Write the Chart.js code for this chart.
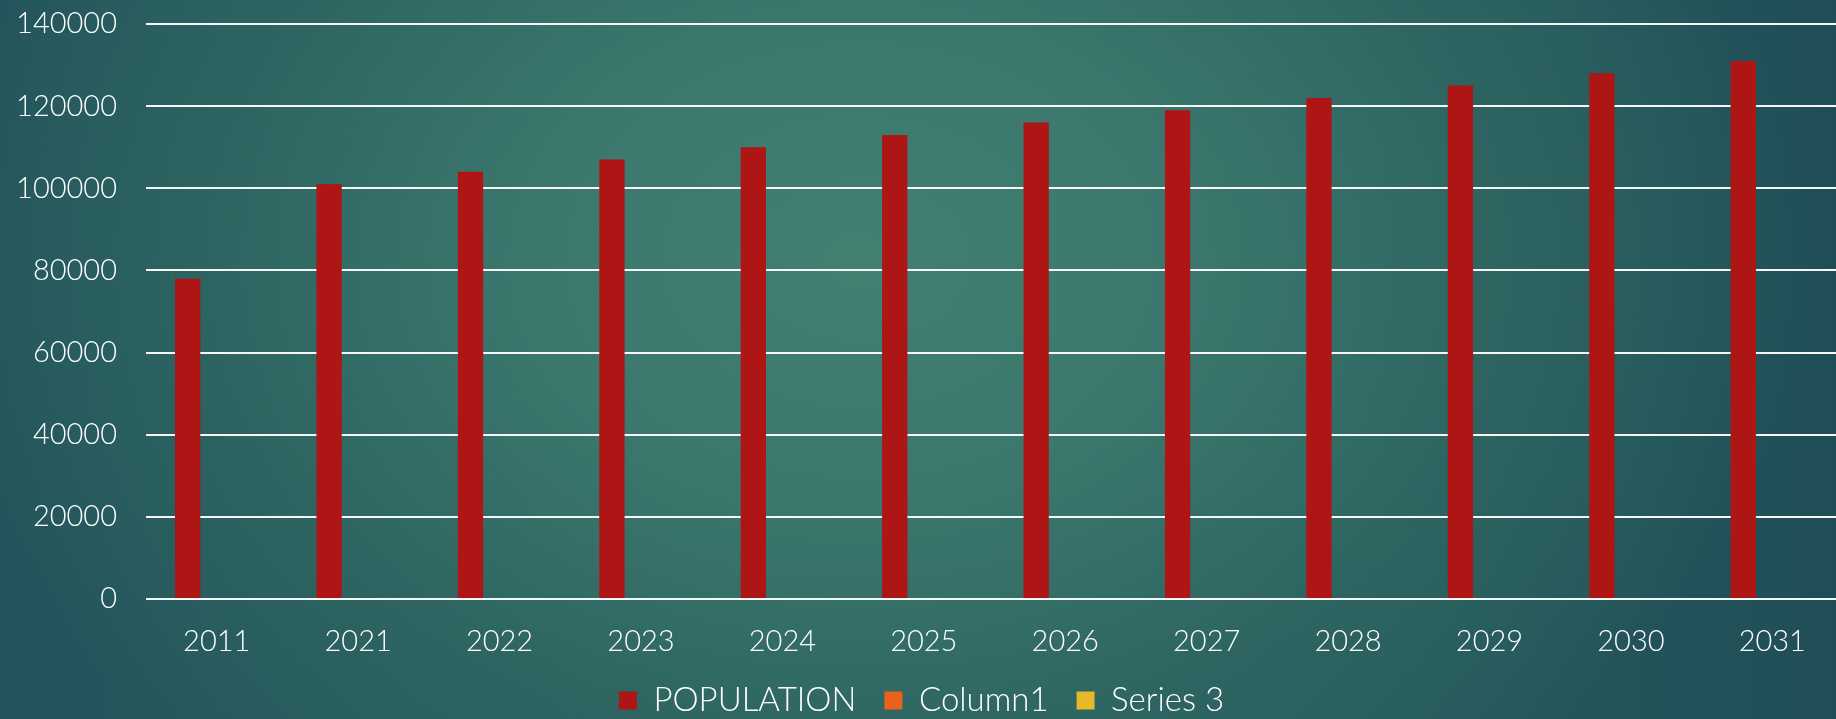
<!DOCTYPE html>
<html>
<head>
<meta charset="utf-8">
<script src="https://cdn.jsdelivr.net/npm/chart.js@4"></script>
<style>
  html, body { margin: 0; padding: 0; width: 1836px; height: 719px; overflow: hidden; }
  body {
    background:
      radial-gradient(ellipse 950px 700px at 860px 260px, rgba(66,128,114,1) 0%, rgba(59,119,109,1) 35%, rgba(46,101,97,0.85) 70%, rgba(33,80,88,0) 100%),
      linear-gradient(90deg, #22535b 0%, #2a6160 40%, #2a6160 60%, #1f4e57 100%);
  }
  #wrap { position: absolute; left: 0; top: 0; width: 1843px; height: 727px; }
</style>
</head>
<body>
<div id="wrap"><canvas id="c" width="1843" height="727"></canvas></div>
<script>
const categories = ['2011','2021','2022','2023','2024','2025','2026','2027','2028','2029','2030','2031'];
const population = [78000, 101000, 104000, 107000, 110000, 113000, 116000, 119000, 122000, 125000, 128000, 131000];
const column1 = [null, null, null, null, null, null, null, null, null, null, null, null];
const series3 = [null, null, null, null, null, null, null, null, null, null, null, null];
const seriesNames = ['POPULATION', 'Column1', 'Series 3'];
const yTicks = [0, 20000, 40000, 60000, 80000, 100000, 120000, 140000];

const FONT = 'Lato, "Open Sans", "DejaVu Sans", sans-serif';

new Chart(document.getElementById('c'), {
  type: 'bar',
  data: {
    labels: categories,
    datasets: [
      { label: seriesNames[0], data: population, backgroundColor: '#AE1515' },
      { label: seriesNames[1], data: column1, backgroundColor: '#E8631A' },
      { label: seriesNames[2], data: series3, backgroundColor: '#E6B82A' }
    ]
  },
  options: {
    responsive: false,
    animation: false,
    devicePixelRatio: 1,
    layout: { padding: { top: 24, left: 0, right: 0, bottom: 0 } },
    datasets: { bar: { categoryPercentage: 0.616, barPercentage: 0.871 } },
    scales: {
      x: {
        grid: { display: false },
        border: { display: false },
        ticks: { color: '#ffffff', font: { family: FONT, size: 29, weight: 300 }, padding: 17, maxRotation: 0 },
        afterFit: (s) => { s.height = 57; }
      },
      y: {
        min: 0, max: 140000,
        afterBuildTicks: (s) => { s.ticks = yTicks.map(v => ({ value: v })); },
        grid: { color: '#f6f6f6', lineWidth: 2, drawTicks: false },
        border: { display: false },
        ticks: {
          color: '#ffffff', font: { family: FONT, size: 29, weight: 300 }, padding: 29,
          callback: (v) => String(v)
        },
        afterFit: (s) => { s.width = 146; s.paddingTop = 0; s.paddingBottom = 0; }
      }
    },
    plugins: {
      tooltip: { enabled: false },
      legend: {
        position: 'bottom',
        labels: { color: '#ffffff', font: { family: FONT, size: 33, weight: 300 }, boxWidth: 18, boxHeight: 18, padding: 28 }
      }
    }
  }
});
</script>
</body>
</html>
